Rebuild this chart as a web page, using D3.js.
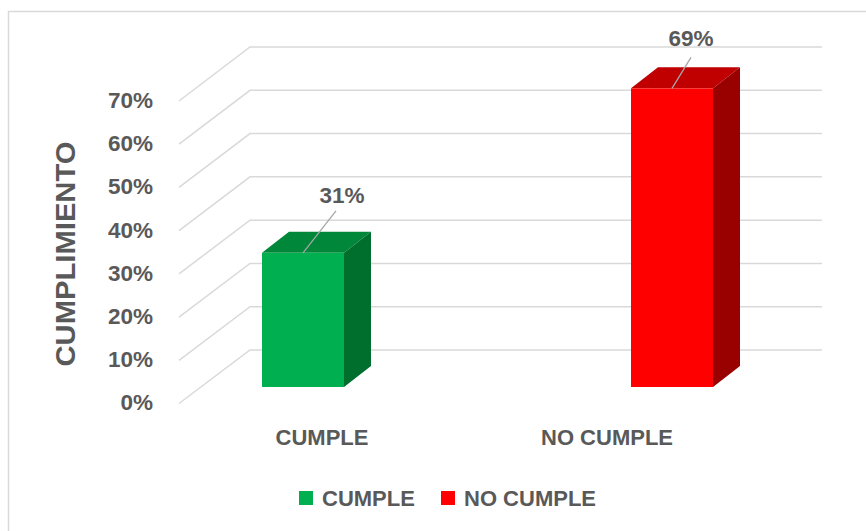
<!DOCTYPE html>
<html>
<head>
<meta charset="utf-8">
<script src="https://cdn.jsdelivr.net/npm/d3@7"></script>
<style>
  html, body { margin: 0; padding: 0; background: #fff; }
  svg { display: block; }
  text { font-family: "Liberation Sans", Arial, sans-serif; font-weight: bold; fill: #595959; }
</style>
</head>
<body>
<svg id="chart" width="866" height="531"></svg>
<script>
// Compliance split, as shares of the total
const categories = ["CUMPLE", "NO CUMPLE"];
const values = [0.31, 0.69];
const labels = ["31%", "69%"];
const frontColors = ["#00B050", "#FF0000"];
const topColors = ["#00873A", "#C00000"];
const sideColors = ["#006F2E", "#990000"];
const tickValues = [0, 0.1, 0.2, 0.3, 0.4, 0.5, 0.6, 0.7];
const axisTitle = "CUMPLIMIENTO";

const svg = d3.select("#chart");
const W = 866, H = 531;

// chart frame
svg.append("rect")
  .attr("x", 8.5).attr("y", 11.5)
  .attr("width", W + 20).attr("height", H + 20)
  .attr("fill", "none").attr("stroke", "#D9D9D9").attr("stroke-width", 1.5);

// 3D projection: back wall, front floor edge and the bar front plane
const yBack = d3.scaleLinear().domain([0, 0.7]).range([350, 47]);
const yFloor = d3.scaleLinear().domain([0, 0.7]).range([403.5, 101]);
const y = d3.scaleLinear().domain([0, 0.7]).range([387, 84]);
const xBackLeft = 250, xBackRight = 822, xFloorLeft = 179;

const x = d3.scalePoint().domain(categories).range([303, 672]);
const xLabel = d3.scalePoint().domain(categories).range([322, 607]);
const barW = 82, depthX = 27, depthY = -21;

// gridlines: diagonal on the side wall, then horizontal across the back wall
const grid = svg.append("g")
  .attr("fill", "none").attr("stroke", "#D9D9D9").attr("stroke-width", 1.5);
tickValues.forEach(v => {
  grid.append("polyline")
    .attr("points", [[xFloorLeft, yFloor(v)], [xBackLeft, yBack(v)], [xBackRight, yBack(v)]]
      .map(p => p.join(",")).join(" "));
});

// tick labels
const fmt = d3.format(".0%");
svg.append("g").selectAll("text")
  .data(tickValues).join("text")
  .attr("x", 153).attr("y", d => yFloor(d) + 1)
  .attr("text-anchor", "end").attr("dominant-baseline", "middle")
  .attr("font-size", 22.5)
  .text(d => fmt(d));

// axis title
svg.append("text")
  .attr("transform", "translate(75,254) rotate(-90)")
  .attr("text-anchor", "middle")
  .attr("font-size", 28)
  .attr("textLength", 225).attr("lengthAdjust", "spacingAndGlyphs")
  .text(axisTitle);

// 3D columns
const bars = svg.append("g");
categories.forEach((c, i) => {
  const x0 = x(c) - barW / 2, x1 = x(c) + barW / 2;
  const y0 = y(0), y1 = y(values[i]);
  const g = bars.append("g");
  // top face
  g.append("polygon")
    .attr("points", [[x0, y1], [x1, y1], [x1 + depthX, y1 + depthY], [x0 + depthX, y1 + depthY]]
      .map(p => p.join(",")).join(" "))
    .attr("fill", topColors[i]);
  // side face
  g.append("polygon")
    .attr("points", [[x1, y1], [x1 + depthX, y1 + depthY], [x1 + depthX, y0 + depthY], [x1, y0]]
      .map(p => p.join(",")).join(" "))
    .attr("fill", sideColors[i]);
  // front face
  g.append("rect")
    .attr("x", x0).attr("y", y1)
    .attr("width", barW).attr("height", y0 - y1)
    .attr("fill", frontColors[i]);
});

// data labels with leader lines
const labelPos = [
  { dx: 39, dy: -50, lx: 33, ly: -42 },
  { dx: 19, dy: -42, lx: 19, ly: -31 }
];
categories.forEach((c, i) => {
  const ax = x(c), ay = y(values[i]);
  const p = labelPos[i];
  svg.append("line")
    .attr("x1", ax).attr("y1", ay)
    .attr("x2", ax + p.lx).attr("y2", ay + p.ly)
    .attr("stroke", "#A6A6A6").attr("stroke-width", 1.3);
  svg.append("text")
    .attr("x", ax + p.dx).attr("y", ay + p.dy)
    .attr("text-anchor", "middle")
    .attr("font-size", 22.5)
    .text(labels[i]);
});

// category labels
svg.append("g").selectAll("text")
  .data(categories).join("text")
  .attr("x", d => xLabel(d)).attr("y", 445)
  .attr("text-anchor", "middle")
  .attr("font-size", 22)
  .text(d => d);

// legend
const legend = svg.append("g");
const legendX = [299, 441];
categories.forEach((c, i) => {
  legend.append("rect")
    .attr("x", legendX[i]).attr("y", 491)
    .attr("width", 14).attr("height", 14)
    .attr("fill", frontColors[i]);
  legend.append("text")
    .attr("x", legendX[i] + 23).attr("y", 506)
    .attr("font-size", 22)
    .text(c);
});
</script>
</body>
</html>
